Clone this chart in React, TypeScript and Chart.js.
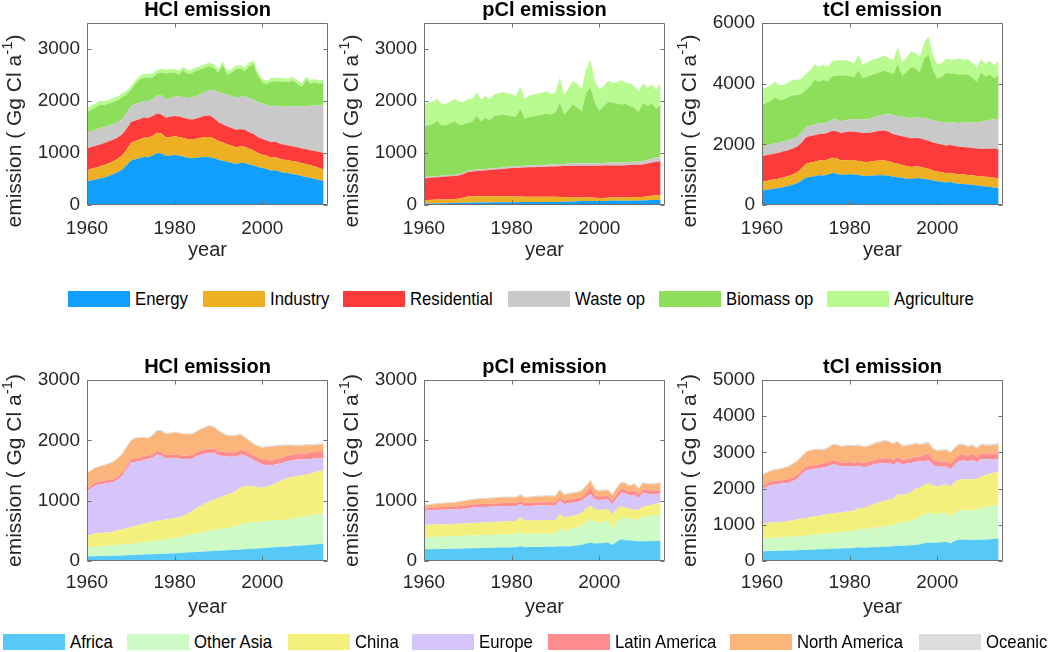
import React, { useEffect, useRef } from "react";
import { Chart, registerables } from "chart.js";
Chart.register(...registerables);

const FONT = "'Liberation Sans', Arial, sans-serif";
const TEXT = "#262626";

const YEARS = [
  1960, 1961, 1962, 1963, 1964, 1965, 1966, 1967, 1968, 1969,
  1970, 1971, 1972, 1973, 1974, 1975, 1976, 1977, 1978, 1979,
  1980, 1981, 1982, 1983, 1984, 1985, 1986, 1987, 1988, 1989,
  1990, 1991, 1992, 1993, 1994, 1995, 1996, 1997, 1998, 1999,
  2000, 2001, 2002, 2003, 2004, 2005, 2006, 2007, 2008, 2009,
  2010, 2011, 2012, 2013, 2014,
];
const X_TICKS = [1960, 1980, 2000];

const SECTOR_NAMES = ["Energy", "Industry", "Residential", "Waste op", "Biomass op", "Agriculture"];
const SECTOR_COLORS = ["#129ffb", "#ecb022", "#fd3b3b", "#c9c9c9", "#8ddf5b", "#b9fb90"];
const REGION_NAMES = ["Africa", "Other Asia", "China", "Europe", "Latin America", "North America", "Oceanic"];
const REGION_COLORS = ["#57c9f8", "#cefbc5", "#f3f07d", "#d6c5fa", "#ff8d8d", "#fbb57a", "#dddddd"];

// ---- HCl emission by sector (Gg Cl / yr) ----
const HCL_ENERGY = [450, 470, 490, 510, 530, 560, 590, 630, 680, 760, 850, 880, 900, 930, 920, 950, 1000, 990, 940, 950, 960, 950, 930, 910, 900, 910, 920, 925, 920, 900, 870, 850, 830, 810, 790, 810, 810, 780, 760, 730, 710, 690, 660, 670, 640, 620, 610, 590, 580, 560, 540, 520, 500, 480, 460];
const HCL_INDUSTRY = [220, 225, 230, 235, 240, 245, 250, 260, 270, 300, 340, 350, 360, 370, 375, 380, 390, 385, 360, 360, 360, 360, 360, 355, 355, 365, 375, 385, 390, 380, 360, 350, 340, 330, 320, 315, 310, 300, 290, 270, 260, 255, 250, 250, 250, 250, 250, 250, 250, 245, 250, 245, 240, 230, 220];
const HCL_RESIDENTIAL = [420, 420, 420, 420, 420, 420, 415, 410, 405, 400, 400, 395, 390, 385, 380, 380, 370, 365, 380, 385, 390, 390, 390, 390, 390, 390, 395, 405, 410, 390, 360, 350, 345, 340, 335, 330, 325, 320, 315, 305, 300, 295, 295, 295, 290, 290, 285, 285, 280, 280, 280, 290, 300, 310, 320];
const HCL_WASTE = [300, 305, 310, 310, 310, 305, 300, 295, 290, 305, 320, 318, 317, 320, 322, 322, 345, 370, 350, 365, 373, 385, 395, 405, 420, 431, 450, 470, 492, 540, 583, 595, 605, 615, 622, 628, 640, 655, 665, 675, 684, 685, 685, 700, 715, 730, 750, 770, 790, 810, 833, 855, 875, 895, 916];
const HCL_BIOMASS = [400, 410, 430, 455, 420, 420, 425, 415, 425, 355, 300, 377, 443, 445, 453, 418, 425, 440, 500, 490, 457, 425, 515, 460, 475, 484, 470, 455, 458, 420, 377, 545, 380, 455, 543, 547, 485, 615, 680, 510, 406, 395, 480, 465, 485, 480, 465, 505, 430, 375, 507, 420, 445, 415, 434];
const HCL_AGRICULTURE = [80, 80, 78, 78, 76, 76, 75, 75, 74, 74, 72, 72, 72, 72, 72, 72, 70, 70, 70, 70, 70, 70, 70, 70, 70, 70, 70, 70, 70, 70, 68, 68, 68, 68, 68, 68, 68, 68, 68, 68, 66, 66, 66, 66, 66, 66, 66, 66, 66, 66, 65, 65, 65, 65, 65];

// ---- pCl emission by sector ----
const PCL_ENERGY = [25, 27, 29, 31, 33, 35, 37, 39, 41, 43, 45, 46, 47, 48, 49, 50, 51, 52, 53, 54, 55, 55, 56, 56, 57, 57, 58, 58, 59, 59, 60, 61, 62, 64, 66, 70, 75, 76, 77, 75, 75, 76, 78, 85, 80, 80, 82, 83, 84, 85, 85, 90, 95, 98, 100];
const PCL_INDUSTRY = [70, 71, 72, 73, 74, 75, 76, 77, 80, 100, 120, 122, 122, 121, 120, 120, 118, 116, 114, 112, 110, 108, 106, 105, 104, 103, 102, 101, 100, 100, 100, 95, 90, 85, 80, 75, 70, 68, 66, 64, 60, 60, 60, 62, 62, 62, 64, 66, 68, 68, 70, 78, 84, 88, 90];
const PCL_RESIDENTIAL = [420, 423, 426, 429, 432, 436, 440, 444, 448, 452, 470, 478, 484, 490, 496, 505, 512, 520, 527, 535, 545, 550, 555, 560, 565, 568, 571, 574, 577, 580, 582, 590, 596, 602, 606, 610, 612, 613, 614, 616, 620, 622, 622, 615, 620, 620, 620, 620, 620, 622, 625, 630, 640, 648, 650];
const PCL_WASTE = [20, 20, 21, 21, 22, 22, 23, 23, 24, 24, 25, 25, 26, 26, 27, 27, 28, 28, 29, 29, 30, 31, 32, 33, 34, 35, 36, 37, 38, 39, 40, 41, 42, 43, 44, 45, 46, 47, 48, 49, 50, 51, 52, 53, 54, 55, 56, 57, 58, 59, 60, 70, 75, 80, 85];
const PCL_BIOMASS = [981, 989, 1012, 1071, 974, 967, 994, 1029, 955, 929, 920, 929, 1043, 927, 985, 930, 1000, 1004, 1018, 995, 969, 952, 1102, 904, 930, 946, 958, 971, 987, 963, 992, 1180, 951, 1044, 1139, 1070, 1003, 1357, 1453, 1163, 1001, 1094, 1168, 1152, 1132, 1118, 1126, 1077, 1040, 953, 1127, 1035, 1060, 937, 1010];
const PCL_AGRICULTURE = [432, 430, 430, 420, 413, 413, 420, 433, 432, 432, 452, 450, 439, 420, 419, 400, 420, 430, 433, 425, 420, 400, 426, 387, 410, 420, 420, 420, 432, 388, 387, 484, 388, 419, 451, 452, 432, 451, 528, 419, 419, 387, 406, 387, 406, 471, 406, 438, 420, 406, 374, 354, 368, 361, 406];

// ---- HCl emission by region ----
const HCL_AFRICA = [75, 77, 79, 81, 83, 85, 87, 89, 92, 95, 98, 101, 104, 107, 110, 113, 116, 119, 122, 125, 128, 132, 136, 140, 144, 148, 152, 156, 160, 165, 170, 174, 178, 182, 186, 190, 195, 200, 204, 208, 212, 217, 222, 227, 232, 237, 242, 247, 252, 257, 262, 268, 274, 280, 286];
const HCL_OTHER_ASIA = [153, 156, 159, 162, 166, 170, 173, 176, 179, 182, 185, 191, 197, 204, 210, 217, 223, 230, 236, 243, 250, 262, 275, 288, 300, 313, 322, 331, 340, 349, 358, 364, 370, 378, 386, 410, 433, 436, 438, 440, 443, 444, 444, 445, 445, 446, 452, 458, 465, 471, 477, 485, 492, 500, 508];
const HCL_CHINA = [189, 207, 223, 223, 221, 217, 230, 243, 255, 267, 278, 288, 297, 306, 316, 325, 327, 328, 331, 332, 333, 328, 341, 355, 386, 417, 441, 465, 489, 502, 516, 534, 552, 568, 583, 628, 607, 603, 591, 580, 556, 572, 589, 618, 645, 667, 684, 687, 688, 692, 694, 699, 706, 710, 712];
const HCL_EUROPE = [738, 770, 794, 804, 813, 823, 815, 842, 879, 976, 1067, 1059, 1057, 1055, 1054, 1056, 1101, 1073, 1005, 1005, 1000, 975, 931, 907, 864, 861, 845, 831, 801, 778, 706, 668, 628, 600, 573, 539, 515, 471, 439, 407, 389, 357, 328, 310, 295, 286, 277, 278, 278, 263, 250, 238, 228, 207, 188];
const HCL_LATIN_AMERICA = [45, 46, 47, 48, 49, 50, 51, 52, 53, 54, 55, 55, 56, 56, 57, 57, 58, 58, 59, 59, 60, 61, 62, 63, 64, 65, 66, 67, 68, 69, 70, 71, 72, 73, 74, 75, 76, 77, 78, 79, 80, 82, 84, 86, 88, 90, 92, 94, 96, 98, 100, 103, 106, 108, 110];
const HCL_NORTH_AMERICA = [250, 245, 243, 247, 251, 265, 283, 298, 309, 306, 306, 339, 329, 316, 283, 312, 331, 348, 347, 351, 357, 357, 355, 347, 342, 336, 357, 360, 381, 348, 336, 299, 272, 271, 270, 258, 218, 203, 183, 186, 198, 213, 227, 214, 200, 185, 170, 147, 126, 130, 134, 124, 111, 120, 129];
const HCL_OCEANIC = [14, 14, 14, 14, 15, 15, 15, 15, 15, 15, 16, 16, 16, 16, 16, 16, 16, 17, 17, 17, 17, 17, 17, 17, 18, 18, 18, 18, 18, 18, 18, 18, 19, 19, 19, 19, 19, 19, 19, 20, 20, 20, 20, 20, 20, 20, 20, 21, 21, 21, 21, 21, 21, 22, 22];

// ---- pCl emission by region ----
const PCL_AFRICA = [193, 195, 196, 197, 198, 200, 201, 203, 205, 207, 210, 211, 213, 215, 216, 218, 220, 222, 223, 225, 226, 228, 245, 228, 230, 231, 232, 233, 235, 236, 237, 245, 240, 242, 248, 255, 270, 290, 304, 290, 293, 300, 305, 265, 320, 359, 345, 338, 331, 328, 326, 328, 330, 332, 331];
const PCL_OTHER_ASIA = [199, 200, 202, 203, 204, 205, 207, 208, 209, 210, 210, 212, 212, 212, 214, 214, 214, 214, 215, 215, 216, 217, 235, 219, 220, 221, 221, 222, 221, 221, 221, 296, 260, 278, 292, 305, 320, 350, 392, 360, 347, 350, 355, 276, 330, 364, 365, 362, 348, 362, 408, 412, 418, 423, 431];
const PCL_CHINA = [204, 205, 205, 206, 206, 205, 205, 205, 204, 204, 204, 205, 207, 209, 210, 212, 214, 216, 217, 218, 220, 220, 240, 223, 222, 222, 223, 222, 222, 222, 221, 239, 215, 212, 210, 208, 206, 225, 220, 210, 205, 200, 200, 230, 215, 180, 175, 172, 168, 165, 165, 175, 185, 195, 204];
const PCL_EUROPE = [232, 235, 237, 239, 240, 240, 239, 239, 244, 247, 248, 257, 258, 257, 255, 254, 254, 254, 255, 252, 249, 243, 225, 235, 238, 241, 242, 241, 242, 236, 237, 219, 225, 230, 220, 210, 200, 190, 188, 160, 165, 165, 160, 166, 180, 220, 235, 210, 250, 190, 232, 200, 175, 160, 154];
const PCL_LATIN_AMERICA = [44, 44, 45, 45, 46, 46, 47, 47, 48, 48, 50, 50, 50, 51, 51, 52, 52, 52, 53, 53, 54, 54, 55, 54, 55, 55, 56, 56, 57, 57, 58, 65, 58, 58, 60, 62, 65, 85, 125, 70, 60, 58, 60, 62, 65, 75, 65, 60, 70, 58, 60, 58, 56, 56, 56];
const PCL_NORTH_AMERICA = [50, 52, 54, 56, 58, 60, 62, 65, 70, 75, 80, 82, 84, 85, 86, 87, 88, 89, 90, 90, 90, 90, 92, 90, 90, 92, 94, 96, 98, 100, 100, 110, 95, 95, 95, 96, 98, 100, 100, 95, 90, 90, 92, 90, 95, 100, 100, 95, 110, 95, 100, 100, 105, 110, 120];
const PCL_OCEANIC = [15, 15, 15, 15, 15, 15, 15, 15, 15, 15, 16, 16, 16, 16, 16, 16, 16, 16, 16, 16, 16, 16, 17, 16, 17, 17, 17, 17, 17, 17, 17, 18, 17, 17, 17, 17, 18, 18, 20, 18, 18, 18, 18, 18, 18, 19, 18, 18, 19, 18, 18, 18, 18, 18, 19];

const HCL_SECTORS = [HCL_ENERGY, HCL_INDUSTRY, HCL_RESIDENTIAL, HCL_WASTE, HCL_BIOMASS, HCL_AGRICULTURE];
const PCL_SECTORS = [PCL_ENERGY, PCL_INDUSTRY, PCL_RESIDENTIAL, PCL_WASTE, PCL_BIOMASS, PCL_AGRICULTURE];
const HCL_REGIONS = [HCL_AFRICA, HCL_OTHER_ASIA, HCL_CHINA, HCL_EUROPE, HCL_LATIN_AMERICA, HCL_NORTH_AMERICA, HCL_OCEANIC];
const PCL_REGIONS = [PCL_AFRICA, PCL_OTHER_ASIA, PCL_CHINA, PCL_EUROPE, PCL_LATIN_AMERICA, PCL_NORTH_AMERICA, PCL_OCEANIC];
// total Cl (tCl) = HCl + pCl
const TCL_SECTORS = HCL_SECTORS.map((s, k) => s.map((v, i) => v + PCL_SECTORS[k][i]));
const TCL_REGIONS = HCL_REGIONS.map((s, k) => s.map((v, i) => v + PCL_REGIONS[k][i]));

const PANELS = [
  { left: 0, top: 0, title: "HCl emission", series: HCL_SECTORS, colors: SECTOR_COLORS, yMax: 3500, yTicks: [0, 1000, 2000, 3000], areaH: 182, labelDy: 17, xPad: 12 },
  { left: 337, top: 0, title: "pCl emission", series: PCL_SECTORS, colors: SECTOR_COLORS, yMax: 3500, yTicks: [0, 1000, 2000, 3000], areaH: 182, labelDy: 17, xPad: 12 },
  { left: 675, top: 0, title: "tCl emission", series: TCL_SECTORS, colors: SECTOR_COLORS, yMax: 6000, yTicks: [0, 2000, 4000, 6000], areaH: 182, labelDy: 17, xPad: 12 },
  { left: 0, top: 357, title: "HCl emission", series: HCL_REGIONS, colors: REGION_COLORS, yMax: 3000, yTicks: [0, 1000, 2000, 3000], areaH: 181, labelDy: 0, xPad: 10 },
  { left: 337, top: 357, title: "pCl emission", series: PCL_REGIONS, colors: REGION_COLORS, yMax: 3000, yTicks: [0, 1000, 2000, 3000], areaH: 181, labelDy: 0, xPad: 10 },
  { left: 675, top: 357, title: "tCl emission", series: TCL_REGIONS, colors: REGION_COLORS, yMax: 5000, yTicks: [0, 1000, 2000, 3000, 4000, 5000], areaH: 181, labelDy: 0, xPad: 10 },
];

const CW = 340;
const CH = 270;
const Y_AXIS_W = 87;
const PAD_TOP = 23;

const decorPlugin = {
  id: "decor",
  afterDatasetsDraw(chart: any) {
    const { ctx, chartArea: a, scales } = chart;
    ctx.save();
    ctx.strokeStyle = "#6f6f6f";
    ctx.lineWidth = 1;
    const L = Math.round(a.left) + 0.5, R = Math.round(a.right) - 0.5;
    const T = Math.round(a.top) + 0.5, B = Math.round(a.bottom) - 0.5;
    ctx.beginPath();
    ctx.rect(L, T, R - L, B - T);
    const tl = 4;
    scales.y.ticks.forEach((t: any) => {
      const y = Math.round(scales.y.getPixelForValue(t.value)) + 0.5;
      ctx.moveTo(L, y); ctx.lineTo(L + tl, y);
      ctx.moveTo(R, y); ctx.lineTo(R - tl, y);
    });
    scales.x.ticks.forEach((t: any) => {
      const x = Math.round(scales.x.getPixelForValue(t.value)) + 0.5;
      ctx.moveTo(x, B); ctx.lineTo(x, B - tl);
      ctx.moveTo(x, T); ctx.lineTo(x, T + tl);
    });
    ctx.stroke();
    ctx.restore();
  },
  afterDraw(chart: any, _args: any, opts: any) {
    const { ctx, chartArea: a } = chart;
    ctx.save();
    ctx.fillStyle = "#000";
    ctx.font = `bold 20px ${FONT}`;
    ctx.textAlign = "center";
    ctx.textBaseline = "middle";
    ctx.fillText(opts.title, (a.left + a.right) / 2, a.top - 13);
    // y-axis label with superscript
    const cx = 15;
    const cy = (a.top + a.bottom) / 2 + opts.labelDy;
    ctx.translate(cx, cy);
    ctx.rotate(-Math.PI / 2);
    ctx.fillStyle = TEXT;
    ctx.textAlign = "left";
    const main = "emission ( Gg Cl a";
    const sup = "-1";
    const end = ")";
    ctx.font = `21px ${FONT}`;
    const w1 = ctx.measureText(main).width;
    const w3 = ctx.measureText(end).width;
    ctx.font = `15px ${FONT}`;
    const w2 = ctx.measureText(sup).width;
    const start = -(w1 + w2 + w3) / 2;
    ctx.font = `21px ${FONT}`;
    ctx.fillText(main, start, 0);
    ctx.fillText(end, start + w1 + w2, 0);
    ctx.font = `15px ${FONT}`;
    ctx.fillText(sup, start + w1, -7);
    ctx.restore();
  },
};

function Panel({ cfg }: { cfg: any }) {
  const ref = useRef<HTMLCanvasElement>(null);
  useEffect(() => {
    const xAxisH = CH - PAD_TOP - cfg.areaH;
    const datasets = cfg.series.map((vals: number[], k: number) => ({
      label: String(k),
      data: vals.map((v, i) => ({ x: YEARS[i], y: v })),
      backgroundColor: cfg.colors[k],
      borderWidth: 0,
      borderColor: cfg.colors[k],
      pointRadius: 0,
      tension: 0,
      fill: k === 0 ? "origin" : "-1",
    }));
    const chart = new Chart(ref.current as HTMLCanvasElement, {
      type: "line",
      data: { datasets },
      options: {
        animation: false,
        responsive: false,
        events: [],
        layout: { padding: { top: PAD_TOP, right: CW - Y_AXIS_W - 241, left: 0, bottom: 0 } },
        plugins: {
          legend: { display: false },
          tooltip: { enabled: false },
          decor: { title: cfg.title, labelDy: cfg.labelDy },
        } as any,
        scales: {
          x: {
            type: "linear",
            min: 1960,
            max: 2015,
            grid: { display: false, drawTicks: false },
            border: { display: false },
            afterBuildTicks: (s: any) => { s.ticks = X_TICKS.map((v) => ({ value: v })); },
            afterFit: (s: any) => { s.height = xAxisH; },
            ticks: { font: { size: 19, family: FONT }, color: TEXT, padding: cfg.xPad, maxRotation: 0, autoSkip: false, callback: (v: any) => String(v) },
            title: { display: true, text: "year", font: { size: 20, family: FONT }, color: TEXT, padding: { top: 0, bottom: 8 } },
          },
          y: {
            type: "linear",
            stacked: true,
            min: 0,
            max: cfg.yMax,
            grid: { display: false, drawTicks: false },
            border: { display: false },
            afterBuildTicks: (s: any) => { s.ticks = cfg.yTicks.map((v: number) => ({ value: v })); },
            afterFit: (s: any) => { s.width = Y_AXIS_W; },
            ticks: { font: { size: 19, family: FONT }, color: TEXT, padding: 7, callback: (v: any) => String(v) },
          },
        },
      },
      plugins: [decorPlugin],
    } as any);
    return () => chart.destroy();
  }, []);
  return (
    <canvas
      ref={ref}
      width={CW}
      height={CH}
      style={{ position: "absolute", left: cfg.left, top: cfg.top, width: CW, height: CH }}
    />
  );
}

const SECTOR_LEGEND_X = [68, 203, 343, 508, 659, 827];
const REGION_LEGEND_X = [3, 127, 288, 412, 548, 730, 919];

function Legend({ names, colors, xs, y }: { names: string[]; colors: string[]; xs: number[]; y: number }) {
  return (
    <>
      {names.map((n, i) => (
        <div key={n} style={{ position: "absolute", left: xs[i], top: y - 8 }}>
          <div style={{ position: "absolute", left: 0, top: 0, width: 62, height: 16, background: colors[i] }} />
          <div
            style={{
              position: "absolute",
              left: 67,
              top: -3,
              whiteSpace: "nowrap",
              font: `19px ${FONT}`,
              lineHeight: "22px",
              color: "#000",
              transform: "scaleX(0.88)",
              transformOrigin: "left center",
            }}
          >
            {n}
          </div>
        </div>
      ))}
    </>
  );
}

export default function App() {
  return (
    <div style={{ position: "absolute", left: 0, top: 0, width: 1050, height: 652, background: "#fff", overflow: "hidden" }}>
      {PANELS.map((p, i) => (
        <Panel key={i} cfg={p} />
      ))}
      <Legend names={SECTOR_NAMES} colors={SECTOR_COLORS} xs={SECTOR_LEGEND_X} y={299} />
      <Legend names={REGION_NAMES} colors={REGION_COLORS} xs={REGION_LEGEND_X} y={642} />
    </div>
  );
}
